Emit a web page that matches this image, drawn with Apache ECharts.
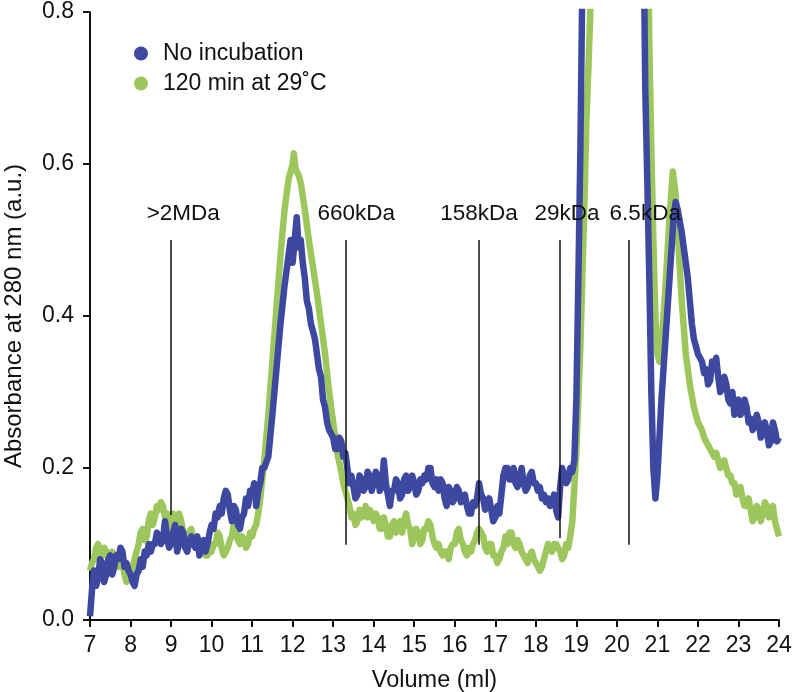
<!DOCTYPE html>
<html>
<head>
<meta charset="utf-8">
<script src="https://cdn.jsdelivr.net/npm/echarts@6/dist/echarts.min.js"></script>
<style>html,body{margin:0;padding:0;background:#fff}#c{width:795px;height:692px}</style>
</head>
<body>
<div id="c"></div>
<script>
// No incubation (blue) : [volume ml, absorbance]
var blueEarly = [[7.00,0.005],[7.05,0.04],[7.10,0.065],[7.15,0.045],[7.20,0.055],[7.25,0.08],[7.30,0.075],[7.35,0.05],[7.40,0.06],[7.45,0.08],[7.50,0.085],[7.55,0.06],[7.60,0.07],[7.65,0.085],[7.70,0.08],[7.75,0.095],[7.80,0.09],[7.85,0.07],[7.90,0.075],[7.95,0.065],[8.00,0.06],[8.05,0.05],[8.10,0.045],[8.15,0.06],[8.20,0.065],[8.25,0.08],[8.30,0.07],[8.35,0.09],[8.40,0.085],[8.45,0.1],[8.50,0.09],[8.55,0.1],[8.60,0.1],[8.65,0.115],[8.70,0.11],[8.75,0.1],[8.80,0.105],[8.85,0.13],[8.90,0.11],[8.95,0.095],[9.00,0.1],[9.05,0.115],[9.10,0.125],[9.15,0.09],[9.20,0.1],[9.25,0.12],[9.30,0.115],[9.35,0.095],[9.40,0.09],[9.45,0.105],[9.50,0.11],[9.55,0.1],[9.60,0.095],[9.65,0.11],[9.70,0.085],[9.75,0.1],[9.80,0.105],[9.85,0.09],[9.90,0.1],[9.95,0.115],[10.00,0.125],[10.05,0.12],[10.10,0.14],[10.15,0.135],[10.20,0.15],[10.25,0.14],[10.30,0.16],[10.35,0.17],[10.40,0.165],[10.45,0.145],[10.50,0.13],[10.55,0.15],[10.60,0.145],[10.65,0.125],[10.70,0.12],[10.75,0.135],[10.80,0.14],[10.85,0.16],[10.90,0.15],[10.95,0.17],[11.00,0.165],[11.05,0.18],[11.10,0.15],[11.15,0.17],[11.20,0.18],[11.25,0.2],[11.30,0.2]];
var bluePeak = [[11.4,0.215],[11.5,0.27],[11.6,0.33],[11.7,0.39],[11.8,0.44],[11.9,0.48],[11.95,0.5],[12.0,0.47],[12.05,0.5],[12.1,0.53],[12.15,0.49],[12.2,0.5],[12.25,0.47],[12.3,0.45],[12.35,0.42],[12.4,0.41],[12.45,0.39],[12.5,0.38],[12.55,0.37],[12.6,0.35],[12.65,0.33],[12.7,0.32],[12.75,0.29],[12.8,0.28],[12.85,0.26],[12.9,0.25],[12.95,0.245],[13.0,0.24],[13.05,0.225],[13.1,0.225],[13.15,0.24],[13.2,0.235],[13.25,0.215],[13.3,0.22]];
var blueMid = [[13.35,0.2],[13.40,0.18],[13.45,0.19],[13.50,0.175],[13.55,0.16],[13.60,0.165],[13.65,0.19],[13.70,0.185],[13.75,0.17],[13.80,0.175],[13.85,0.195],[13.90,0.19],[13.95,0.17],[14.00,0.18],[14.05,0.195],[14.10,0.19],[14.15,0.17],[14.20,0.175],[14.25,0.21],[14.30,0.18],[14.35,0.165],[14.40,0.15],[14.45,0.17],[14.50,0.17],[14.55,0.185],[14.60,0.18],[14.65,0.16],[14.70,0.165],[14.75,0.185],[14.80,0.19],[14.85,0.17],[14.90,0.175],[14.95,0.19],[15.00,0.18],[15.05,0.165],[15.10,0.17],[15.15,0.185],[15.20,0.18],[15.25,0.19],[15.30,0.185],[15.35,0.2],[15.40,0.2],[15.45,0.18],[15.50,0.175],[15.55,0.185],[15.60,0.17],[15.65,0.185],[15.70,0.18],[15.75,0.16],[15.80,0.15],[15.85,0.175],[15.90,0.17],[15.95,0.155],[16.00,0.16],[16.05,0.175],[16.10,0.17],[16.15,0.155],[16.20,0.16],[16.25,0.165],[16.30,0.15],[16.35,0.14],[16.40,0.14],[16.45,0.155],[16.50,0.15],[16.55,0.16],[16.60,0.18],[16.65,0.165],[16.70,0.16],[16.75,0.145],[16.80,0.15],[16.85,0.16],[16.90,0.145],[16.95,0.13],[17.00,0.135],[17.05,0.15],[17.10,0.14],[17.15,0.165],[17.20,0.19],[17.25,0.2],[17.30,0.2],[17.35,0.185],[17.40,0.185],[17.45,0.2],[17.50,0.18],[17.55,0.175],[17.60,0.19],[17.65,0.2],[17.70,0.18],[17.75,0.17],[17.80,0.175],[17.85,0.19],[17.90,0.195],[17.95,0.18],[18.00,0.18],[18.05,0.17],[18.10,0.175],[18.15,0.16],[18.20,0.165],[18.25,0.155],[18.30,0.16],[18.35,0.15],[18.40,0.155],[18.45,0.165],[18.50,0.145],[18.55,0.135],[18.60,0.175],[18.65,0.2],[18.70,0.19],[18.75,0.18],[18.80,0.185],[18.85,0.2],[18.90,0.195],[18.95,0.21]];
var blueSalt = [[19.0,0.29],[19.05,0.45],[19.1,0.62],[19.15,0.85],[19.3,1.2],[20.6,1.2],[20.7,0.7],[20.75,0.58],[20.8,0.45],[20.85,0.3],[20.9,0.2],[20.95,0.16],[21.0,0.19],[21.1,0.29],[21.2,0.37],[21.3,0.45],[21.4,0.53],[21.45,0.55],[21.5,0.54],[21.6,0.51]];
var blueLate = [[21.7,0.47],[21.75,0.45],[21.8,0.42],[21.85,0.39],[21.9,0.37],[21.95,0.36],[22.0,0.35],[22.05,0.345],[22.1,0.34],[22.15,0.325],[22.2,0.33],[22.25,0.31],[22.3,0.315],[22.35,0.34],[22.4,0.33],[22.45,0.345],[22.5,0.32],[22.55,0.3],[22.6,0.305],[22.65,0.32],[22.7,0.31],[22.75,0.29],[22.8,0.285],[22.85,0.3],[22.9,0.27],[22.95,0.28],[23.0,0.29],[23.05,0.27],[23.1,0.275],[23.15,0.29],[23.2,0.28],[23.25,0.26],[23.3,0.265],[23.35,0.25],[23.4,0.255],[23.45,0.27],[23.5,0.26],[23.55,0.24],[23.6,0.245],[23.65,0.26],[23.7,0.25],[23.75,0.23],[23.8,0.235],[23.85,0.26],[23.9,0.25],[23.95,0.235],[24.0,0.24]];

// 120 min at 29 C (green) : [volume ml, absorbance]
var greenEarly = [[7.00,0.065],[7.05,0.075],[7.10,0.08],[7.15,0.095],[7.20,0.1],[7.25,0.085],[7.30,0.085],[7.35,0.095],[7.40,0.09],[7.45,0.08],[7.50,0.075],[7.55,0.09],[7.60,0.085],[7.65,0.075],[7.70,0.07],[7.75,0.085],[7.80,0.075],[7.85,0.06],[7.90,0.05],[7.95,0.06],[8.00,0.07],[8.05,0.065],[8.10,0.08],[8.15,0.09],[8.20,0.1],[8.25,0.115],[8.30,0.12],[8.35,0.105],[8.40,0.11],[8.45,0.13],[8.50,0.14],[8.55,0.125],[8.60,0.135],[8.65,0.15],[8.70,0.145],[8.75,0.155],[8.80,0.15],[8.85,0.135],[8.90,0.14],[8.95,0.125],[9.00,0.12],[9.05,0.14],[9.10,0.13],[9.15,0.12],[9.20,0.14],[9.25,0.13],[9.30,0.115],[9.35,0.105],[9.40,0.1],[9.45,0.115],[9.50,0.12],[9.55,0.105],[9.60,0.11],[9.65,0.1],[9.70,0.09],[9.75,0.1],[9.80,0.095],[9.85,0.085],[9.90,0.085],[9.95,0.095],[10.00,0.09],[10.05,0.1],[10.10,0.1],[10.15,0.115],[10.20,0.11],[10.25,0.095],[10.30,0.085],[10.35,0.09],[10.40,0.095],[10.45,0.105],[10.50,0.11],[10.55,0.125],[10.60,0.12],[10.65,0.105],[10.70,0.1],[10.75,0.11],[10.80,0.105],[10.85,0.095],[10.90,0.1],[10.95,0.115],[11.00,0.11],[11.05,0.12],[11.10,0.125],[11.15,0.14],[11.20,0.16]];
var greenPeak = [[11.3,0.21],[11.4,0.27],[11.5,0.34],[11.6,0.41],[11.7,0.48],[11.8,0.54],[11.9,0.58],[11.95,0.59],[12.0,0.6],[12.03,0.614],[12.07,0.595],[12.1,0.59],[12.15,0.585],[12.2,0.575],[12.3,0.54],[12.4,0.5],[12.5,0.465],[12.6,0.43],[12.7,0.39],[12.8,0.35],[12.9,0.3],[13.0,0.26],[13.1,0.22],[13.2,0.195],[13.25,0.18]];
var greenMid = [[13.30,0.17],[13.35,0.16],[13.40,0.15],[13.45,0.135],[13.50,0.14],[13.55,0.125],[13.60,0.13],[13.65,0.145],[13.70,0.135],[13.75,0.14],[13.80,0.15],[13.85,0.135],[13.90,0.145],[13.95,0.14],[14.00,0.13],[14.05,0.14],[14.10,0.135],[14.15,0.12],[14.20,0.12],[14.25,0.135],[14.30,0.125],[14.35,0.11],[14.40,0.11],[14.45,0.125],[14.50,0.13],[14.55,0.115],[14.60,0.125],[14.65,0.13],[14.70,0.115],[14.75,0.13],[14.80,0.14],[14.85,0.125],[14.90,0.12],[14.95,0.1],[15.00,0.11],[15.05,0.12],[15.10,0.115],[15.15,0.1],[15.20,0.105],[15.25,0.12],[15.30,0.12],[15.35,0.13],[15.40,0.125],[15.45,0.11],[15.50,0.1],[15.55,0.095],[15.60,0.1],[15.65,0.09],[15.70,0.085],[15.75,0.09],[15.80,0.09],[15.85,0.08],[15.90,0.095],[15.95,0.1],[16.00,0.1],[16.05,0.115],[16.10,0.12],[16.15,0.105],[16.20,0.1],[16.25,0.09],[16.30,0.085],[16.35,0.095],[16.40,0.09],[16.45,0.1],[16.50,0.105],[16.55,0.115],[16.60,0.12],[16.65,0.115],[16.70,0.11],[16.75,0.095],[16.80,0.09],[16.85,0.1],[16.90,0.1],[16.95,0.085],[17.00,0.085],[17.05,0.075],[17.10,0.08],[17.15,0.09],[17.20,0.095],[17.25,0.11],[17.30,0.1],[17.35,0.115],[17.40,0.115],[17.45,0.1],[17.50,0.095],[17.55,0.105],[17.60,0.1],[17.65,0.09],[17.70,0.085],[17.75,0.08],[17.80,0.075],[17.85,0.085],[17.90,0.09],[17.95,0.08],[18.00,0.075],[18.05,0.07],[18.10,0.065],[18.15,0.07],[18.20,0.08],[18.25,0.09],[18.30,0.1],[18.35,0.095],[18.40,0.09],[18.45,0.1],[18.50,0.1],[18.55,0.095],[18.60,0.09],[18.65,0.08],[18.70,0.085],[18.75,0.1],[18.80,0.095],[18.85,0.11],[18.90,0.13]];
var greenSalt = [[19.0,0.22],[19.1,0.36],[19.2,0.55],[19.25,0.66],[19.3,0.73],[19.35,0.81],[19.5,1.2],[20.7,1.2],[20.8,0.76],[20.85,0.62],[20.9,0.5],[20.95,0.4],[21.0,0.35],[21.05,0.34],[21.1,0.36],[21.2,0.44],[21.3,0.53],[21.38,0.59],[21.45,0.56],[21.5,0.51],[21.6,0.42],[21.7,0.35]];
var greenLate = [[21.8,0.31],[21.85,0.295],[21.9,0.28],[21.95,0.27],[22.0,0.26],[22.05,0.255],[22.1,0.25],[22.15,0.24],[22.2,0.235],[22.25,0.23],[22.3,0.225],[22.35,0.22],[22.4,0.215],[22.45,0.22],[22.5,0.21],[22.55,0.2],[22.6,0.205],[22.65,0.21],[22.7,0.2],[22.75,0.19],[22.8,0.19],[22.85,0.18],[22.9,0.18],[22.95,0.165],[23.0,0.17],[23.05,0.175],[23.1,0.16],[23.15,0.15],[23.2,0.15],[23.25,0.16],[23.3,0.145],[23.35,0.13],[23.4,0.135],[23.45,0.15],[23.5,0.145],[23.55,0.13],[23.6,0.14],[23.65,0.155],[23.7,0.15],[23.75,0.135],[23.8,0.145],[23.85,0.15],[23.9,0.13],[23.95,0.12],[24.0,0.11]];

// Calibration markers
var markerVolumes = [9.0, 13.3, 16.6, 18.6, 20.3];
var markerTop = [0.5, 0.5, 0.5, 0.5, 0.5];
var markerBottom = [0.138, 0.099, 0.099, 0.108, 0.099];
var markerLabels = ['>2MDa', '660kDa', '158kDa', '29kDa', '6.5kDa'];
var markerLabelVolumes = [9.3, 13.57, 16.6, 18.77, 20.7];
var markerLabelAbs = 0.534;

var blueData = blueEarly.concat(bluePeak, blueMid, blueSalt, blueLate);
var greenData = greenEarly.concat(greenPeak, greenMid, greenSalt, greenLate);

var FONT = 'Liberation Sans, Arial, sans-serif';
var chart = echarts.init(document.getElementById('c'));

var markSegments = markerVolumes.map(function (v, i) {
  return [{ coord: [v, markerBottom[i]] }, { coord: [v, markerTop[i]] }];
});
var markTexts = markerLabelVolumes.map(function (v, i) {
  return { coord: [v, markerLabelAbs], name: markerLabels[i] };
});

chart.setOption({
  animation: false,
  backgroundColor: '#fff',
  grid: { left: 90, right: 16, top: 12, bottom: 72, containLabel: false, outerBoundsMode: 'none' },
  legend: {
    orient: 'vertical', left: 134, top: 42, itemGap: 7, padding: 0,
    itemWidth: 14, itemHeight: 14, icon: 'circle',
    textStyle: { fontFamily: FONT, fontSize: 23, color: '#111', padding: [0, 0, 0, 10] },
    data: ['No incubation', '120 min at 29\u02daC']
  },
  xAxis: {
    type: 'value', min: 7, max: 24, interval: 1,
    name: 'Volume (ml)', nameLocation: 'middle', nameGap: 49,
    nameTextStyle: { fontFamily: FONT, fontSize: 23.5, color: '#111' },
    axisLine: { lineStyle: { color: '#111', width: 2 } },
    axisTick: { show: true, length: 7, lineStyle: { color: '#111', width: 2 } },
    axisLabel: { fontFamily: FONT, fontSize: 23, color: '#111', margin: 14 },
    splitLine: { show: false }
  },
  yAxis: {
    type: 'value', min: 0, max: 0.8, interval: 0.2,
    name: 'Absorbance at 280 nm (a.u.)', nameLocation: 'middle', nameGap: 64,
    nameTextStyle: { fontFamily: FONT, fontSize: 24, color: '#111' },
    axisLine: { show: true, lineStyle: { color: '#111', width: 2 } },
    axisTick: { show: true, length: 7, lineStyle: { color: '#111', width: 2 } },
    axisLabel: { fontFamily: FONT, fontSize: 23, color: '#111', margin: 16,
      formatter: function (v) { return v.toFixed(1); } },
    splitLine: { show: false }
  },
  series: [
    {
      name: '120 min at 29\u02daC', type: 'line', data: greenData,
      showSymbol: false, clip: true, color: '#9dc75c',
      lineStyle: { width: 6.5, color: '#9dc75c', join: 'round' },
      z: 2
    },
    {
      name: 'No incubation', type: 'line', data: blueData,
      showSymbol: false, clip: true, color: '#3d49a0',
      lineStyle: { width: 6.5, color: '#3d49a0', join: 'round' },
      z: 3,
      markLine: {
        silent: true, symbol: ['none', 'none'],
        lineStyle: { color: '#111', width: 1.5, type: 'solid' },
        label: { show: false },
        data: markSegments
      },
      markPoint: {
        silent: true, symbol: 'circle', symbolSize: 0,
        itemStyle: { color: 'transparent' },
        label: { show: true, position: 'inside', color: '#111', fontFamily: FONT, fontSize: 22.5,
          formatter: function (p) { return p.name; } },
        data: markTexts
      }
    }
  ]
});
</script>
</body>
</html>
